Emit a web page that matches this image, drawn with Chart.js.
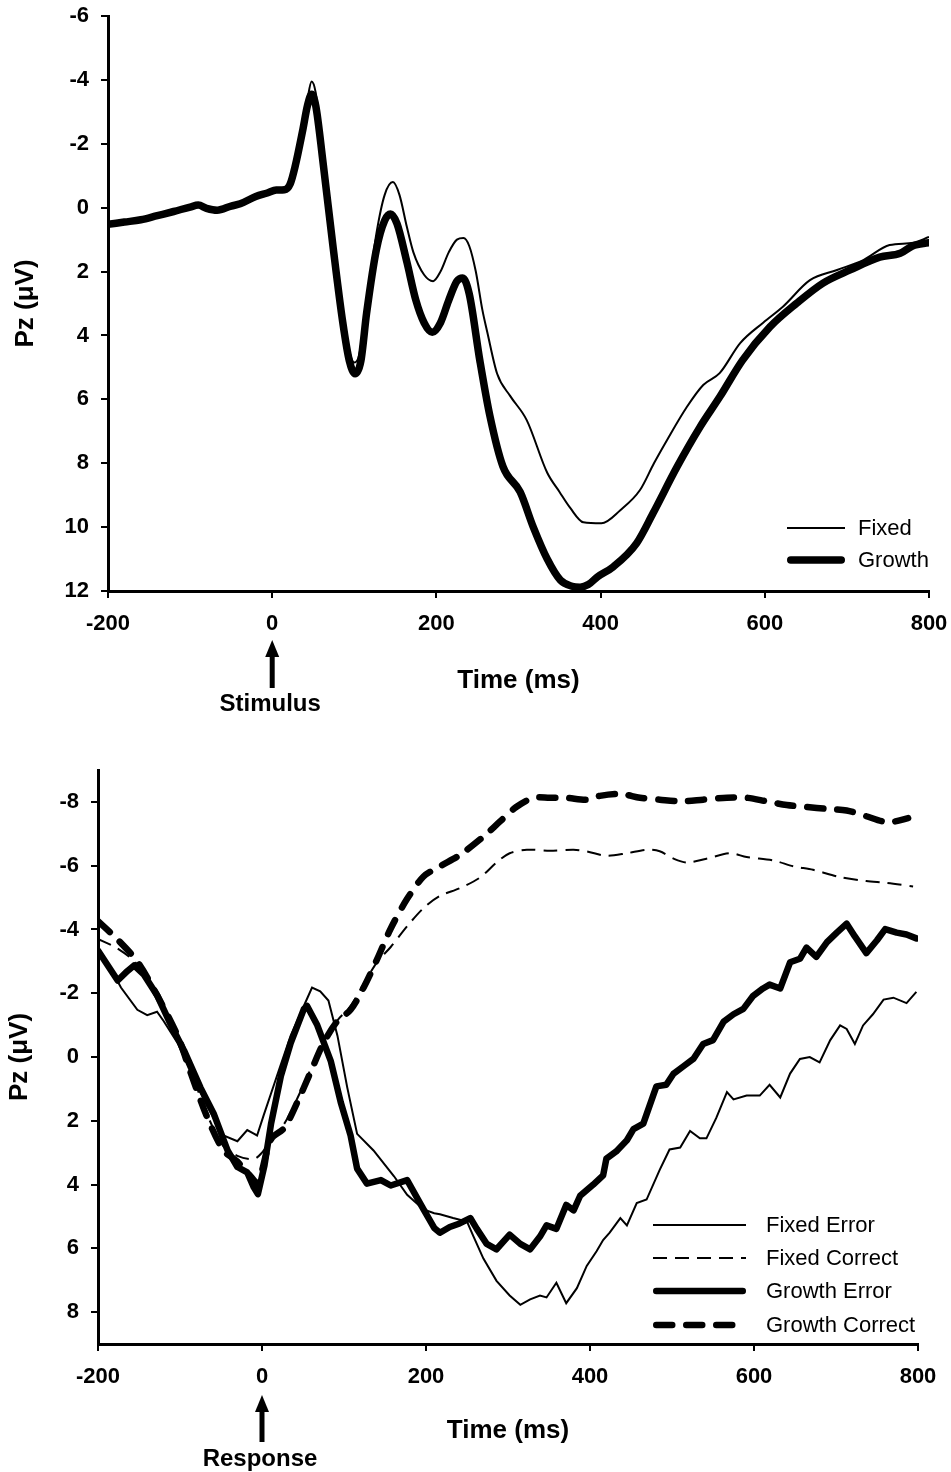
<!DOCTYPE html>
<html>
<head>
<meta charset="utf-8">
<title>Pz ERP - stimulus and response locked</title>
<script src="https://cdn.jsdelivr.net/npm/chart.js@4.4.1/dist/chart.umd.min.js"></script>
<style>
    html, body { margin: 0; padding: 0; background: #fff; }
    #wrap { position: relative; width: 951px; height: 1472px; }
    canvas { position: absolute; left: 0; }
    #stimChart { top: 0; }
    #respChart { top: 740px; }
</style>
</head>
<body>
<div id="wrap">
    <canvas id="stimChart" width="951" height="730"></canvas>
    <canvas id="respChart" width="951" height="732"></canvas>
</div>
<script>
// ---- tick labels ----
const timeTicks = [-200, 0, 200, 400, 600, 800];
const stimVoltTicks = [-6, -4, -2, 0, 2, 4, 6, 8, 10, 12];
const respVoltTicks = [-8, -6, -4, -2, 0, 2, 4, 6, 8];

// ---- stimulus locked (top panel) ----
const stimFixedT = [-200,-180,-160,-140,-120,-100,-90,-80,-67,-50,-39,-20,-6,5,15,22,28,37,43,48,53,62,74,86,94,100,106,115,127,137,147,155,164,172,185,196,205,215,225,233,240,248,256,262,274,290,310,335,350,363,379,401,424,448,465,481,505,525,545,570,598,622,655,688,720,752,781,800];
const stimFixedV = [0.5,0.45,0.38,0.25,0.12,-0.08,-0.1,0.0,0.07,-0.05,-0.15,-0.35,-0.46,-0.55,-0.56,-0.75,-1.3,-2.5,-3.4,-3.95,-3.6,-1.7,1.0,3.4,4.5,4.85,4.6,3.0,0.8,-0.4,-0.8,-0.4,0.6,1.4,2.1,2.3,2.0,1.4,1.0,0.95,1.2,2.0,3.2,3.9,5.2,5.9,6.65,8.3,8.9,9.4,9.85,9.88,9.47,8.84,8.0,7.27,6.24,5.55,5.18,4.24,3.6,3.1,2.27,1.95,1.64,1.17,1.1,0.92];

const stimGrowthT = [-200,-180,-160,-140,-120,-100,-90,-80,-67,-50,-39,-20,-6,5,15,22,28,37,43,48,53,62,74,86,94,101,108,115,127,137,144,152,164,175,185,195,205,215,225,232,240,253,265,281,302,318,335,351,365,375,385,396,415,444,464,493,521,545,573,606,639,671,704,740,765,780,800];
const stimGrowthV = [0.52,0.45,0.38,0.25,0.12,-0.02,-0.08,0.02,0.08,-0.05,-0.12,-0.35,-0.46,-0.55,-0.56,-0.75,-1.3,-2.4,-3.2,-3.55,-3.2,-1.4,1.2,3.6,4.8,5.2,4.8,3.3,1.3,0.4,0.2,0.5,1.7,2.9,3.6,3.9,3.6,2.9,2.3,2.2,2.7,4.8,6.5,8.1,8.9,10.0,11.0,11.66,11.85,11.88,11.8,11.56,11.25,10.5,9.56,8.12,6.87,5.93,4.77,3.74,2.99,2.36,1.95,1.55,1.43,1.2,1.1];

// ---- response locked (bottom panel) ----
const fixedErrorT = [-200,-189,-172,-152,-140,-128,-120,-103,-87,-67,-47,-30,-18,-10,-6,2,18,35,51,61,71,81,92,104,116,136,161,177,197,210,217,233,250,258,270,286,302,315,327,339,347,359,371,384,396,408,416,424,437,445,457,469,485,497,510,522,534,542,554,567,575,591,607,619,632,644,656,668,680,693,705,713,723,733,745,758,770,786,798];
const fixedErrorV = [-3.34,-2.99,-2.18,-1.48,-1.31,-1.42,-1.13,-0.44,0.49,1.54,2.46,2.64,2.29,2.4,2.46,1.83,0.61,-0.67,-1.6,-2.18,-2.06,-1.77,-0.67,0.96,2.41,2.93,3.74,4.32,4.78,4.9,4.93,5.05,5.16,5.63,6.32,7.02,7.48,7.77,7.6,7.48,7.54,7.08,7.72,7.25,6.55,6.09,5.74,5.51,5.05,5.28,4.58,4.47,3.54,2.9,2.84,2.32,2.55,2.55,1.91,1.1,1.33,1.21,1.21,0.87,1.27,0.52,0.06,0.0,0.17,-0.53,-0.99,-0.88,-0.41,-0.99,-1.34,-1.8,-1.86,-1.69,-2.04];

const fixedCorrectT = [-200,-176,-152,-128,-103,-87,-67,-47,-30,-10,0,11,27,43,59,75,92,108,124,141,157,177,197,217,241,266,286,302,323,351,380,396,420,445,469,485,502,518,542,571,591,624,648,672,705,737,762,794];
const fixedCorrectV = [-3.7,-3.4,-2.9,-1.9,-0.7,0.4,1.8,2.8,3.1,3.2,3.0,2.6,2.1,1.3,0.4,-0.5,-1.15,-1.6,-2.3,-3.0,-3.45,-4.1,-4.67,-5.05,-5.29,-5.63,-6.1,-6.39,-6.5,-6.47,-6.5,-6.45,-6.31,-6.39,-6.5,-6.45,-6.22,-6.1,-6.22,-6.39,-6.27,-6.16,-5.98,-5.87,-5.64,-5.52,-5.46,-5.35];

const growthErrorT = [-200,-176,-164,-156,-144,-128,-111,-95,-75,-59,-42,-30,-18,-10,-5,3,11,23,35,51,55,67,84,96,108,116,128,145,157,177,197,210,217,229,241,254,262,274,286,302,315,327,339,347,359,371,380,388,404,416,420,432,445,453,465,477,481,493,502,514,526,538,550,563,575,587,599,611,619,632,644,656,664,676,689,701,713,723,737,750,760,774,786,798];
const growthErrorV = [-3.34,-2.4,-2.7,-2.87,-2.58,-1.94,-1.0,-0.2,0.96,1.77,2.93,3.45,3.62,4.09,4.3,3.4,2.1,0.6,-0.44,-1.5,-1.6,-1.02,0.14,1.42,2.46,3.5,3.97,3.86,4.03,3.86,4.78,5.36,5.51,5.33,5.22,5.05,5.39,5.86,6.03,5.57,5.86,6.03,5.63,5.28,5.39,4.64,4.81,4.35,4.0,3.71,3.19,2.96,2.61,2.26,2.09,1.21,0.92,0.87,0.52,0.29,0.06,-0.41,-0.53,-1.11,-1.34,-1.51,-1.92,-2.15,-2.27,-2.15,-2.97,-3.08,-3.43,-3.14,-3.6,-3.9,-4.18,-3.78,-3.26,-3.66,-4.01,-3.9,-3.84,-3.72];

const growthCorrectT = [-200,-176,-152,-128,-103,-87,-67,-47,-30,-10,-5,11,27,43,59,75,92,108,124,141,157,177,197,217,241,270,290,310,331,351,371,396,412,437,461,485,510,538,567,591,615,640,664,689,713,737,758,770,788];
const growthCorrectV = [-4.26,-3.68,-2.99,-1.94,-0.67,0.49,1.88,2.93,3.28,3.86,4.0,2.58,2.23,1.42,0.49,-0.44,-1.13,-1.48,-2.18,-3.1,-4.03,-4.96,-5.66,-5.98,-6.33,-6.91,-7.38,-7.84,-8.13,-8.13,-8.13,-8.07,-8.19,-8.25,-8.13,-8.07,-8.02,-8.07,-8.13,-8.13,-8.02,-7.9,-7.84,-7.78,-7.73,-7.55,-7.38,-7.38,-7.49];

const FONT = '"Liberation Sans", Arial, Helvetica, sans-serif';
Chart.defaults.font.family = FONT;
Chart.defaults.color = '#000';

function points(times, values) {
    return times.map((t, i) => ({ x: t, y: values[i] }));
}

/**
 * Arrow under time zero with the event name
 */
const eventMarker = {
    id: 'eventMarker',
    afterDraw(chart, args, opts) {
        const ctx = chart.ctx;
        const x = chart.scales.x.getPixelForValue(0);
        ctx.save();
        ctx.fillStyle = '#000';
        ctx.strokeStyle = '#000';
        ctx.lineWidth = 5;
        ctx.beginPath();
        ctx.moveTo(x, opts.tipY + 12);
        ctx.lineTo(x, opts.baseY);
        ctx.stroke();
        ctx.beginPath();
        ctx.moveTo(x, opts.tipY);
        ctx.lineTo(x - 7, opts.tipY + 17);
        ctx.lineTo(x + 7, opts.tipY + 17);
        ctx.closePath();
        ctx.fill();
        ctx.font = 'bold 24px ' + FONT;
        ctx.textAlign = 'center';
        ctx.textBaseline = 'middle';
        ctx.fillText(opts.text, x - 2, opts.textY);
        ctx.restore();
    }
};

/**
 * Line-sample legend inside the plot, one row per dataset
 */
const lineLegend = {
    id: 'lineLegend',
    afterDraw(chart, args, opts) {
        const ctx = chart.ctx;
        ctx.save();
        ctx.strokeStyle = '#000';
        ctx.fillStyle = '#000';
        chart.data.datasets.forEach((ds, i) => {
            const y = opts.rows[i];
            const w = ds.borderWidth;
            const round = ds.borderCapStyle === 'round';
            const inset = round ? w / 2 : 0;
            ctx.lineWidth = w;
            ctx.lineCap = round ? 'round' : 'butt';
            ctx.setLineDash(ds.borderDash || []);
            ctx.beginPath();
            ctx.moveTo(opts.x0 + inset, y);
            ctx.lineTo(opts.x1 - inset, y);
            ctx.stroke();
            ctx.setLineDash([]);
            ctx.font = '22px ' + FONT;
            ctx.textAlign = 'left';
            ctx.textBaseline = 'middle';
            ctx.fillText(ds.label, opts.textX, y + 1);
        });
        ctx.restore();
    }
};

function buildScales(p) {
    return {
        x: {
            type: 'linear',
            min: -200,
            max: 800,
            afterBuildTicks: s => { s.ticks = timeTicks.map(v => ({ value: v })); },
            afterFit: s => {
                s.height = p.xHeight;
                // keep the plot edges where the layout padding puts them
                s.paddingLeft = 0;
                s.paddingRight = 0;
            },
            grid: { drawOnChartArea: false, drawTicks: true, tickLength: 7, color: '#000', lineWidth: 2 },
            border: { color: '#000', width: 3 },
            ticks: { padding: 13, maxRotation: 0, color: '#000', font: { size: 22, weight: 'bold' } },
            title: { display: true, text: 'Time (ms)', color: '#000', padding: 4, font: { size: 26, weight: 'bold' } }
        },
        y: {
            type: 'linear',
            reverse: true,
            min: p.yMin,
            max: p.yMax,
            afterBuildTicks: s => { s.ticks = p.yTicks.map(v => ({ value: v })); },
            afterFit: s => {
                s.width = p.yWidth;
                s.paddingTop = 0;
                s.paddingBottom = 0;
            },
            grid: { drawOnChartArea: false, drawTicks: true, tickLength: 7, color: '#000', lineWidth: 2 },
            border: { color: '#000', width: 3 },
            ticks: { padding: 12, color: '#000', font: { size: 22, weight: 'bold' } },
            title: { display: true, text: 'Pz (\u03BCV)', color: '#000', padding: p.yTitlePad, font: { size: 26, weight: 'bold' } }
        }
    };
}

function drawStimulusChart() {
    const ctx = document.getElementById('stimChart');
    new Chart(ctx, {
        type: 'line',
        data: {
            datasets: [
                {
                    label: 'Fixed',
                    data: points(stimFixedT, stimFixedV),
                    borderColor: '#000',
                    borderWidth: 2,
                    pointRadius: 0,
                    cubicInterpolationMode: 'monotone',
                    fill: false
                },
                {
                    label: 'Growth',
                    data: points(stimGrowthT, stimGrowthV),
                    borderColor: '#000',
                    borderWidth: 7.5,
                    borderCapStyle: 'round',
                    borderJoinStyle: 'round',
                    pointRadius: 0,
                    cubicInterpolationMode: 'monotone',
                    fill: false
                }
            ]
        },
        options: {
            responsive: false,
            animation: false,
            devicePixelRatio: 1,
            layout: { padding: { top: 16, right: 22, bottom: 30, left: 0 } },
            scales: buildScales({ xHeight: 109, yWidth: 108, yMin: -6, yMax: 12, yTicks: stimVoltTicks, yTitlePad: 10 }),
            plugins: {
                legend: { display: false },
                tooltip: { enabled: false },
                eventMarker: { text: 'Stimulus', tipY: 640, baseY: 688, textY: 704 },
                lineLegend: { x0: 787, x1: 845, textX: 858, rows: [528, 560] }
            }
        },
        plugins: [eventMarker, lineLegend]
    });
}

function drawResponseChart() {
    const ctx = document.getElementById('respChart');
    new Chart(ctx, {
        type: 'line',
        data: {
            datasets: [
                {
                    label: 'Fixed Error',
                    data: points(fixedErrorT, fixedErrorV),
                    borderColor: '#000',
                    borderWidth: 2,
                    pointRadius: 0,
                    tension: 0,
                    fill: false
                },
                {
                    label: 'Fixed Correct',
                    data: points(fixedCorrectT, fixedCorrectV),
                    borderColor: '#000',
                    borderWidth: 2,
                    borderDash: [14, 8],
                    pointRadius: 0,
                    tension: 0.3,
                    fill: false
                },
                {
                    label: 'Growth Error',
                    data: points(growthErrorT, growthErrorV),
                    borderColor: '#000',
                    borderWidth: 6.5,
                    borderCapStyle: 'round',
                    borderJoinStyle: 'round',
                    pointRadius: 0,
                    tension: 0,
                    fill: false
                },
                {
                    label: 'Growth Correct',
                    data: points(growthCorrectT, growthCorrectV),
                    borderColor: '#000',
                    borderWidth: 6.5,
                    borderDash: [16, 14],
                    borderCapStyle: 'round',
                    borderJoinStyle: 'round',
                    pointRadius: 0,
                    tension: 0.3,
                    fill: false
                }
            ]
        },
        options: {
            responsive: false,
            animation: false,
            devicePixelRatio: 1,
            layout: { padding: { top: 30, right: 33, bottom: 22, left: 0 } },
            scales: buildScales({ xHeight: 106, yWidth: 98, yMin: -9, yMax: 9, yTicks: respVoltTicks, yTitlePad: 4 }),
            plugins: {
                legend: { display: false },
                tooltip: { enabled: false },
                eventMarker: { text: 'Response', tipY: 655, baseY: 702, textY: 719 },
                lineLegend: { x0: 653, x1: 746, textX: 766, rows: [485, 518, 551, 585] }
            }
        },
        plugins: [eventMarker, lineLegend]
    });
}

drawStimulusChart();
drawResponseChart();
</script>
</body>
</html>
